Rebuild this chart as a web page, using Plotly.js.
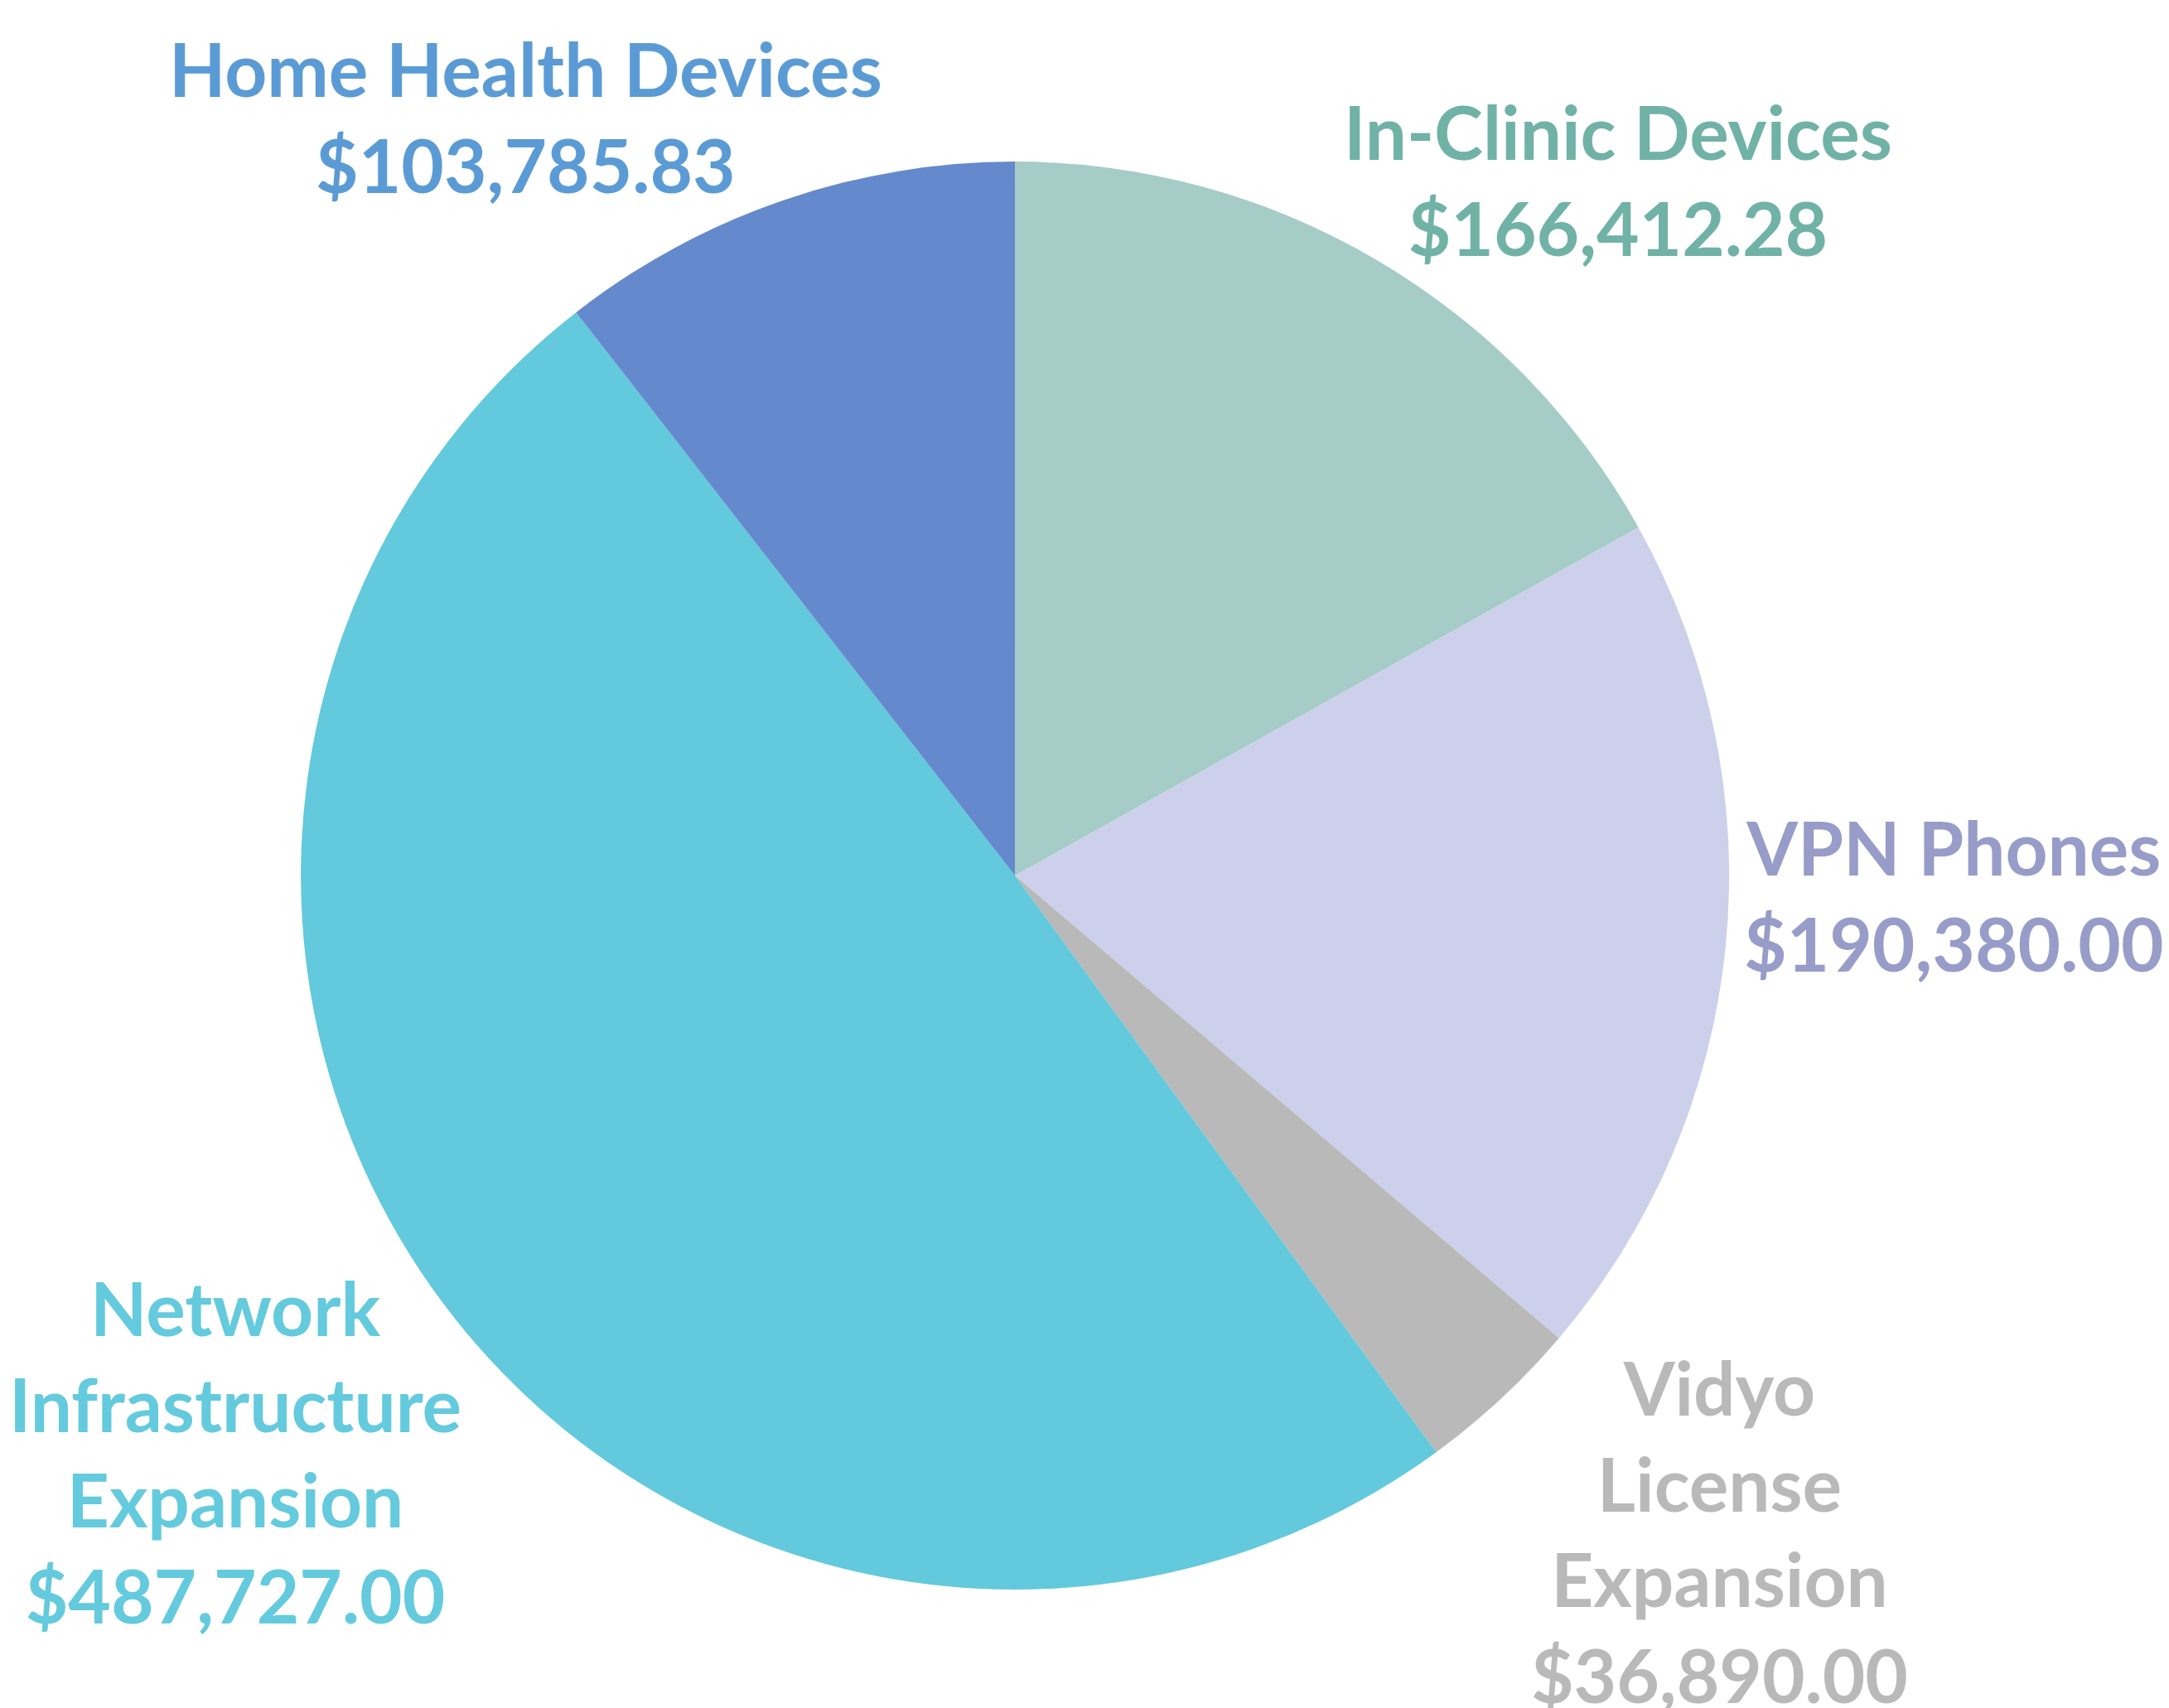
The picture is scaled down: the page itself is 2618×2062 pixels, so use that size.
<!DOCTYPE html>
<html>
<head>
<meta charset="utf-8">
<script src="https://cdn.plot.ly/plotly-3.0.1.min.js"></script>
<style>html,body{margin:0;padding:0;background:#fff;}#chart{width:2618px;height:2062px;}</style>
</head>
<body>
<div id="chart"></div>
<script>
// Data
const categories = ["In-Clinic Devices", "VPN Phones", "Vidyo License Expansion", "Network Infrastructure Expansion", "Home Health Devices"];
const displayLabels = ["In-Clinic Devices", "VPN Phones", "Vidyo<br>License<br>Expansion", "Network<br>Infrastructure<br>Expansion", "Home Health Devices"];
const values = [166412.28, 190380.00, 36890.00, 487727.00, 103785.83];
const sliceColors = ["#A5CCC7", "#CDD0EB", "#B9B9B9", "#63C9DC", "#6589CD"];
const labelColors = ["#70B2A6", "#979CC8", "#B9B9B9", "#64CADD", "#5B9BD5"];
// label block centres (paper coords)
const labelX = [0.746, 0.901, 0.7926, 0.1085, 0.2422];
const labelY = [0.8948, 0.4762, 0.1038, 0.1503, 0.932];

function fmt(v){
  return "$" + v.toLocaleString("en-US", {minimumFractionDigits: 2, maximumFractionDigits: 2});
}

const trace = {
  type: "pie",
  labels: categories,
  values: values,
  sort: false,
  direction: "clockwise",
  rotation: 0,
  marker: {colors: sliceColors, line: {width: 0}},
  textinfo: "none",
  hoverinfo: "label+value",
  showlegend: false,
  domain: {x: [0.1387, 0.7972], y: [0.0693, 0.9054]}
};

const annotations = categories.map((c, i) => ({
  xref: "paper", yref: "paper",
  x: labelX[i], y: labelY[i],
  xanchor: "center", yanchor: "middle",
  text: displayLabels[i] + "<br>" + fmt(values[i]),
  showarrow: false,
  align: "center",
  font: {family: "Lato, 'Open Sans', sans-serif", size: 89, weight: 700, color: labelColors[i]}
}));

const layout = {
  width: 2618, height: 2062,
  margin: {l: 0, r: 0, t: 0, b: 0},
  paper_bgcolor: "#ffffff",
  plot_bgcolor: "#ffffff",
  showlegend: false,
  annotations: annotations
};

Plotly.newPlot("chart", [trace], layout, {displayModeBar: false, staticPlot: true});
</script>
</body>
</html>
